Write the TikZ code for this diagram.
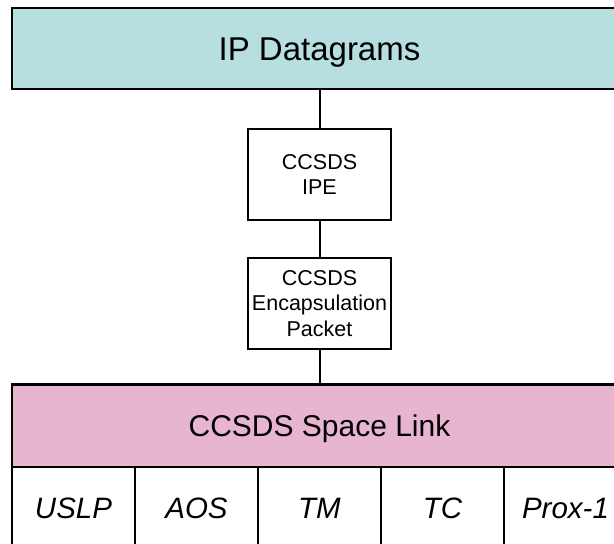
\documentclass[tikz,border=0pt]{standalone}
\usepackage{fontspec}
\setmainfont{Liberation Sans}
\definecolor{ipteal}{RGB}{183,223,223}
\definecolor{linkpink}{RGB}{232,181,208}
\tikzset{
  layerbox/.style={draw, line width=2.4pt, minimum width=615pt, minimum height=81pt,
    inner sep=0pt, text depth=0pt},
  smallbox/.style={draw, line width=2pt, minimum width=143pt, minimum height=91pt,
    inner sep=0pt, align=center, font=\fontsize{21.5pt}{25.8pt}\selectfont},
  cellbox/.style={draw, line width=2pt, minimum width=123pt, minimum height=82.5pt,
    inner sep=0pt, text height=20.3pt, text depth=0pt,
    font=\fontsize{29.5pt}{34pt}\selectfont\itshape},
  wire/.style={line width=2pt}
}
\begin{document}
\begin{tikzpicture}[x=1pt, y=-1pt]
    \useasboundingbox (0, 0) rectangle (614, 544) ;
    \node[layerbox, fill=ipteal, text height=22.7pt, font=\fontsize{33pt}{38pt}\selectfont] (ipdg) at (319.5, 48.75) {IP Datagrams} ;
    \node[smallbox] (ipe) at (319.5, 174.5) {CCSDS\\IPE} ;
    \node[smallbox] (encap) at (319.5, 303.5) {CCSDS\\Encapsulation\\Packet} ;
    \node[layerbox, fill=linkpink, minimum height=82.5pt, text height=20.6pt, font=\fontsize{30pt}{35pt}\selectfont] (link) at (319.5, 425.75) {CCSDS Space Link} ;
    \foreach \name [count=\i] in {USLP, AOS, TM, TC, Prox-1}
        \node[cellbox] (cell\i) at ({73.5 + 123*(\i-1)}, 508.25) {\name} ;
    \draw[wire] (ipdg) -- (ipe) ;
    \draw[wire] (ipe) -- (encap) ;
    \draw[wire] (encap) -- (link) ;
  \end{tikzpicture}
\end{document}
